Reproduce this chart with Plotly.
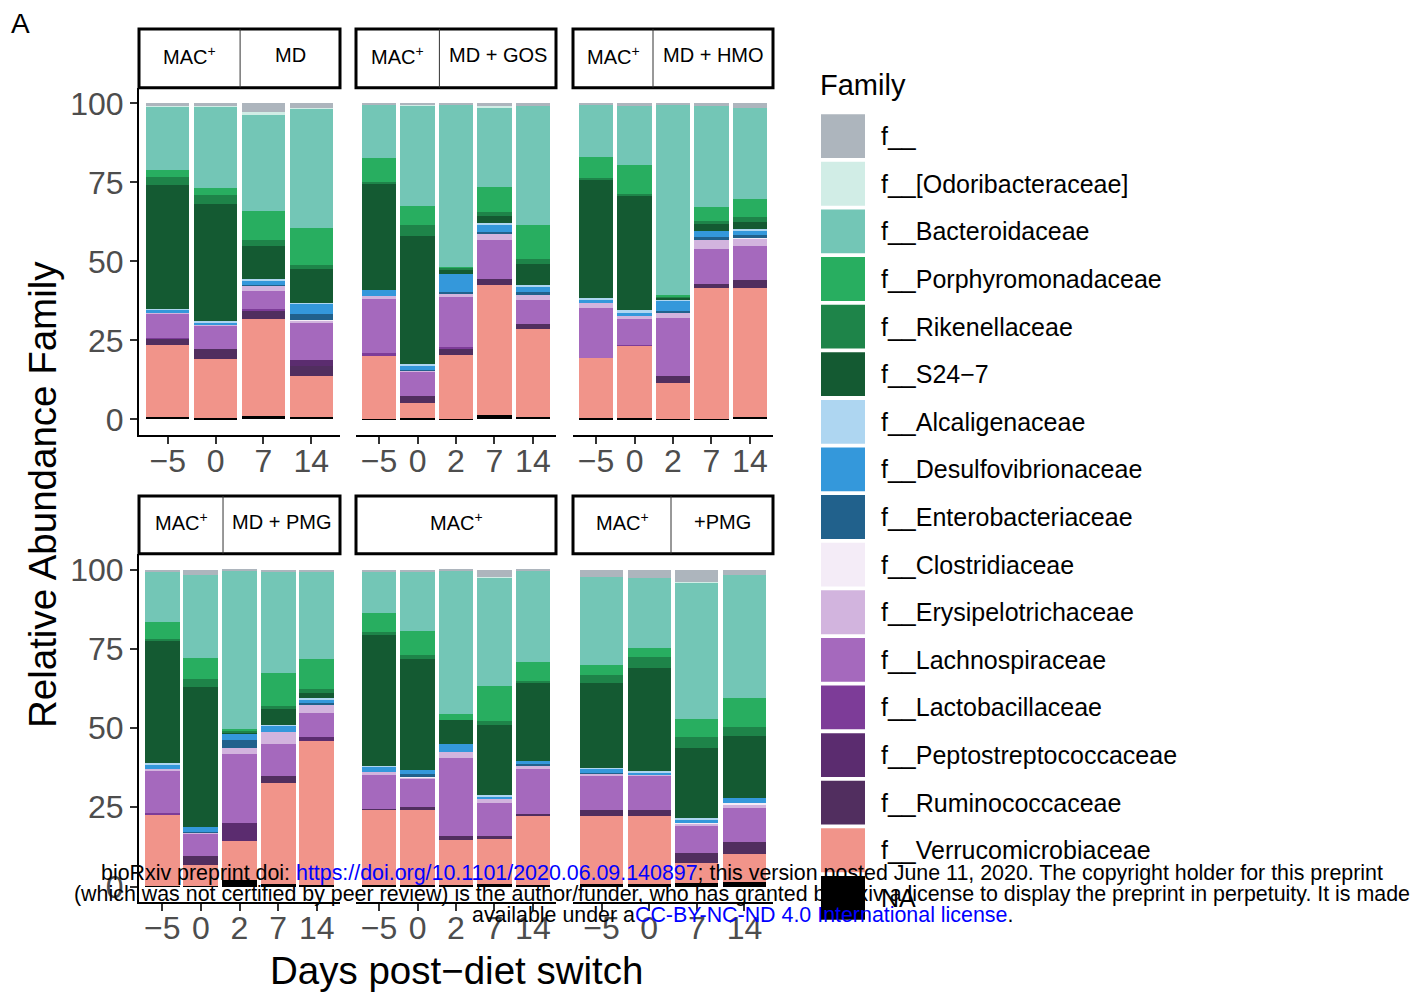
import plotly.graph_objects as go

# ---------------------------------------------------------------- data
FAMILIES = [
    "f__", "f__[Odoribacteraceae]", "f__Bacteroidaceae", "f__Porphyromonadaceae",
    "f__Rikenellaceae", "f__S24−7", "f__Alcaligenaceae", "f__Desulfovibrionaceae",
    "f__Enterobacteriaceae", "f__Clostridiaceae", "f__Erysipelotrichaceae",
    "f__Lachnospiraceae", "f__Lactobacillaceae", "f__Peptostreptococcaceae",
    "f__Ruminococcaceae", "f__Verrucomicrobiaceae", "NA",
]
COLORS = [
    "#ADB5BD", "#D1EDE6", "#73C6B6", "#28AE60", "#1E8449", "#145A32", "#AED6F1",
    "#3498DB", "#21618C", "#F4ECF7", "#D2B4DE", "#A569BD", "#7D3C98", "#5B2C6F",
    "#512E5F", "#F1948A", "#000000",
]

DAYS_4 = ["−5", "0", "7", "14"]
DAYS_5 = ["−5", "0", "2", "7", "14"]

# relative abundance (%) per sample; columns follow FAMILIES
md = [
    [0.7, 0.2, 20.2, 2.2, 2.5, 39.1, 0.2, 1.1, 0, 0, 0.2, 7.7, 0.2, 0, 2.0, 23.0, 0.7],
    [0.5, 0.3, 26.0, 2.2, 2.8, 37.1, 0.2, 0.6, 0.3, 0, 0.3, 7.4, 0, 0, 3.2, 18.7, 0.4],
    [2.8, 0.5, 30.7, 9.1, 1.9, 10.7, 0.2, 1.4, 0.3, 0, 1.6, 6.0, 0.3, 0, 2.8, 30.6, 1.1],
    [1.3, 0.3, 37.7, 11.7, 1.3, 10.7, 0.2, 3.3, 1.9, 0.2, 0.6, 12.1, 0, 1.8, 3.3, 12.9, 0.7],
]
md_gos = [
    [0.3, 0, 17.1, 7.6, 0.3, 33.7, 0, 1.9, 0, 0, 0.9, 17.3, 0.5, 0, 0, 20.2, 0.2],
    [0.2, 0.3, 31.9, 6.0, 3.5, 40.7, 0.3, 1.3, 0.3, 0, 0.3, 7.9, 0, 0, 2.2, 4.7, 0.4],
    [0.3, 0, 51.3, 0.3, 0.6, 1.6, 0, 5.6, 0.4, 0, 1.3, 15.8, 0.3, 0, 2.2, 20.1, 0.2],
    [0.9, 0.3, 25.2, 7.9, 1.3, 2.2, 0.3, 2.5, 0.6, 0, 1.9, 12.6, 0, 0, 1.9, 41.0, 1.4],
    [0.9, 0, 37.6, 10.7, 1.6, 6.6, 0.3, 1.9, 0.6, 0, 1.9, 7.6, 0, 0, 1.6, 28.0, 0.7],
]
md_hmo = [
    [0.3, 0, 16.7, 6.6, 0.3, 37.8, 0.3, 1.3, 0, 0, 1.3, 15.8, 0, 0, 0, 19.2, 0.4],
    [0.6, 0, 18.8, 9.1, 0.9, 35.9, 0.6, 1.3, 0, 0, 0.9, 8.2, 0.3, 0, 0, 23.0, 0.4],
    [0.3, 0, 60.3, 0.3, 0.3, 0.6, 0.3, 3.5, 0.3, 0, 1.9, 18.3, 0, 0, 2.5, 11.2, 0.2],
    [0.6, 0, 32.3, 4.4, 0.6, 2.5, 0, 1.9, 0.9, 0, 2.8, 11.0, 0, 0, 1.3, 41.5, 0.2],
    [1.3, 0, 29.0, 5.7, 1.6, 2.2, 0.3, 1.6, 0.6, 0.3, 2.5, 10.7, 0, 0, 2.5, 41.0, 0.7],
]
md_pmg = [
    [0.4, 0, 16.2, 5.3, 0.4, 38.8, 0.3, 1.4, 0, 0, 0.7, 13.3, 0.3, 0, 0, 22.6, 0.3],
    [1.6, 0, 26.4, 6.6, 2.5, 44.0, 0, 1.6, 0.3, 0, 0.3, 7.2, 0, 0, 2.8, 6.4, 0.3],
    [0.3, 0, 49.9, 0.6, 0.5, 0.4, 0, 2.2, 2.5, 0, 1.9, 21.7, 0, 5.7, 0, 12.3, 2.0],
    [0.6, 0, 32.0, 10.4, 0.9, 5.0, 0.3, 1.9, 0, 0, 3.8, 10.1, 0, 0, 2.2, 32.1, 0.7],
    [0.6, 0, 27.6, 9.4, 1.3, 1.6, 0.3, 1.3, 0.3, 0, 2.8, 7.5, 0, 1.3, 0, 45.4, 0.6],
]
mac = [
    [0.6, 0, 13.2, 6.0, 0.9, 41.2, 0.3, 1.6, 0, 0, 0.9, 10.7, 0, 0, 0.3, 23.8, 0.5],
    [0.9, 0, 18.6, 7.5, 1.3, 34.9, 0, 1.3, 0.6, 0.3, 0.6, 8.8, 0, 0, 0.9, 23.8, 0.5],
    [0.3, 0, 45.3, 1.9, 0, 7.5, 0, 2.4, 0, 0, 2.0, 24.5, 0, 0, 1.3, 14.3, 0.5],
    [2.2, 0.3, 34.3, 11.0, 1.3, 22.0, 0.3, 0.9, 0, 0, 1.3, 10.4, 0, 0, 0.9, 14.4, 0.7],
    [0.3, 0, 29.0, 5.7, 0.6, 24.8, 0, 0.9, 0.3, 0, 1.3, 14.1, 0, 0, 0.6, 21.9, 0.5],
]
pmg = [
    [2.2, 0, 28.0, 3.1, 2.5, 26.7, 0.3, 1.3, 0.3, 0, 0.6, 10.7, 0, 0, 2.2, 21.4, 0.7],
    [2.5, 0, 22.3, 2.8, 3.5, 32.4, 0.3, 0.9, 0, 0, 0.3, 10.7, 0, 0, 2.2, 21.4, 0.7],
    [3.8, 0.3, 43.0, 5.7, 3.5, 22.0, 0.6, 0.9, 0, 0.3, 0.6, 8.8, 0, 0, 3.1, 6.4, 1.0],
    [1.6, 0, 39.0, 9.1, 2.8, 19.5, 0, 1.6, 0, 0.6, 0.9, 10.7, 0, 0, 3.8, 9.1, 1.3],
]

MAC = "MAC<sup>+</sup>"
# (row, col, samples, day labels, strip labels, strip split fraction)
PANELS = [
    (0, 0, md, DAYS_4, [MAC, "MD"], 0.503),
    (0, 1, md_gos, DAYS_5, [MAC, "MD + GOS"], 0.417),
    (0, 2, md_hmo, DAYS_5, [MAC, "MD + HMO"], 0.40),
    (1, 0, md_pmg, DAYS_5, [MAC, "MD + PMG"], 0.418),
    (1, 1, mac, DAYS_5, [MAC], None),
    (1, 2, pmg, DAYS_4, [MAC, "+PMG"], 0.49),
]

# ---------------------------------------------------------------- geometry (px)
W, H = 1427, 994
COLS = [(139, 340), (356, 556), (573, 773)]
ROWS = [(86, 435, 27), (554, 904, 496)]   # panel top, panel bottom, strip top
FONT = "Liberation Sans, Arial, Helvetica, sans-serif"


def fx(x):
    return x / W


def fy(y):
    return 1 - y / H


def label(text, x, y, size, xanchor="center", **kw):
    return dict(text=text, x=fx(x), y=fy(y), xref="paper", yref="paper",
                xanchor=xanchor, yanchor="middle", showarrow=False,
                font=dict(family=FONT, size=size, color="black"), **kw)


fig = go.Figure()
layout = {}
shapes = []
annotations = []

for k, (r, c, samples, days, strip, split) in enumerate(PANELS, start=1):
    xs = list(range(1, len(days) + 1))
    ax = "" if k == 1 else str(k)
    # stack from the bottom: NA first, f__ on top
    for j in reversed(range(len(FAMILIES))):
        fig.add_trace(go.Bar(
            x=xs, y=[s[j] for s in samples], width=0.9,
            marker=dict(color=COLORS[j], line=dict(width=0)),
            name=FAMILIES[j], showlegend=False,
            xaxis="x" + ax, yaxis="y" + ax,
        ))
    x0, x1 = COLS[c]
    top, bot, stop = ROWS[r]
    layout["xaxis" + ax] = dict(
        domain=[fx(x0), fx(x1)], anchor="y" + ax, range=[0.4, len(days) + 0.6],
        tickvals=xs, ticktext=days, ticks="outside", ticklen=7, tickwidth=2,
        tickcolor="#333333", showline=True, linecolor="black", linewidth=2,
        showgrid=False, zeroline=False, ticklabelstandoff=-11,
        tickfont=dict(family=FONT, size=32, color="#4D4D4D"),
    )
    first = c == 0
    layout["yaxis" + ax] = dict(
        domain=[fy(bot), fy(top)], anchor="x" + ax, range=[-5, 105],
        tickvals=[0, 25, 50, 75, 100], showticklabels=first,
        ticks="outside" if first else "", ticklen=7, tickwidth=2, tickcolor="#333333",
        showline=first, linecolor="black", linewidth=2,
        showgrid=False, zeroline=False,
        tickfont=dict(family=FONT, size=32, color="#4D4D4D"),
    )
    # facet strip
    shapes.append(dict(type="rect", xref="paper", yref="paper",
                       x0=fx(x0), x1=fx(x1), y0=fy(top), y1=fy(stop),
                       line=dict(color="black", width=3), fillcolor="white"))
    ymid = (top + stop) / 2 - 3
    if split is None:
        annotations.append(label(strip[0], (x0 + x1) / 2, ymid, 20))
    else:
        xd = x0 + split * (x1 - x0)
        shapes.append(dict(type="line", xref="paper", yref="paper",
                           x0=fx(xd), x1=fx(xd), y0=fy(top), y1=fy(stop),
                           line=dict(color="#333333", width=1)))
        for lab, (a, b) in zip(strip, [(x0, xd), (xd, x1)]):
            annotations.append(label(lab, (a + b) / 2, ymid, 20))

# ---------------------------------------------------------------- legend
annotations.append(label("Family", 818, 83, 29, xanchor="left"))
for i, (name, col) in enumerate(zip(FAMILIES, COLORS)):
    ky = 112.7 + i * 47.8
    shapes.append(dict(type="rect", xref="paper", yref="paper",
                       x0=fx(821), x1=fx(865), y0=fy(ky + 44), y1=fy(ky),
                       line=dict(width=0), fillcolor=col))
    annotations.append(label(name, 879, ky + 22, 25, xanchor="left"))

# ---------------------------------------------------------------- titles
annotations.append(label("Relative Abundance Family", 42, 495, 38.5, textangle=-90))
annotations.append(label("Days post−diet switch", 456, 972, 38.5))
annotations.append(label("A", 20, 22, 28))

# ---------------------------------------------------------------- preprint notice
BLUE = "#0000FF"
NOTICE = [
    ("bioRxiv preprint doi: <span style='color:%s'>https://doi.org/10.1101/2020.06.09.140897</span>; "
     "this version posted June 11, 2020. The copyright holder for this preprint" % BLUE, 875),
    ("(which was not certified by peer review) is the author/funder, who has granted bioRxiv "
     "a license to display the preprint in perpetuity. It is made", 896),
    ("available under a<span style='color:%s'>CC-BY-NC-ND 4.0 International license</span>." % BLUE, 917),
]
for txt, yy in NOTICE:
    annotations.append(label(txt, 742, yy, 21.4))

fig.update_layout(
    width=W, height=H, margin=dict(l=0, r=0, t=0, b=0, pad=0),
    paper_bgcolor="white", plot_bgcolor="white",
    barmode="stack", showlegend=False,
    shapes=shapes, annotations=annotations,
    **layout,
)

fig.write_html("out.html")
